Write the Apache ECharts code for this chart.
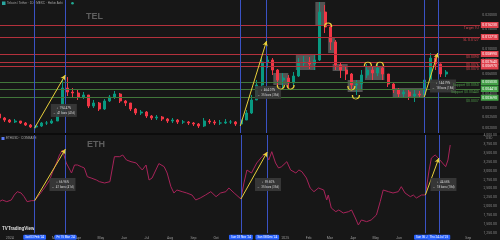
<!DOCTYPE html>
<html><head><meta charset="utf-8">
<script src="https://cdn.jsdelivr.net/npm/echarts@6/dist/echarts.min.js"></script>
<style>html,body{margin:0;padding:0;background:#171717;overflow:hidden}#c{width:500px;height:240px}</style>
</head><body><div id="c"></div>
<script>
// ---------- DATA ----------
const weekDates = ['2023-12-18','2023-12-25','2024-01-01','2024-01-08','2024-01-15','2024-01-22','2024-01-29','2024-02-05','2024-02-12','2024-02-19',
'2024-02-26','2024-03-04','2024-03-11','2024-03-18','2024-03-25','2024-04-01','2024-04-08','2024-04-15','2024-04-22','2024-04-29',
'2024-05-06','2024-05-13','2024-05-20','2024-05-27','2024-06-03','2024-06-10','2024-06-17','2024-06-24','2024-07-01','2024-07-08',
'2024-07-15','2024-07-22','2024-07-29','2024-08-05','2024-08-12','2024-08-19','2024-08-26','2024-09-02','2024-09-09','2024-09-16',
'2024-09-23','2024-09-30','2024-10-07','2024-10-14','2024-10-21','2024-10-28','2024-11-04','2024-11-11','2024-11-18','2024-11-25',
'2024-12-02','2024-12-09','2024-12-16','2024-12-23','2024-12-30','2025-01-06','2025-01-13','2025-01-20','2025-01-27','2025-02-03',
'2025-02-10','2025-02-17','2025-02-24','2025-03-03','2025-03-10','2025-03-17','2025-03-24','2025-03-31','2025-04-07','2025-04-14',
'2025-04-21','2025-04-28','2025-05-05','2025-05-12','2025-05-19','2025-05-26','2025-06-02','2025-06-09','2025-06-16','2025-06-23',
'2025-06-30','2025-07-07','2025-07-14','2025-07-21','2025-07-28','2025-08-04'];

const telFirstOpen = 0.00265;
const telClose = [0.002443,0.002345,0.002252,0.002298,0.002206,0.002118,0.002034,0.002076,0.002206,0.002206,
0.002298,0.002650,0.004499,0.004147,0.004064,0.003746,0.003901,0.003118,0.003315,0.002934,
0.003453,0.003746,0.003982,0.003453,0.003315,0.002934,0.002704,0.002760,0.002544,0.002443,
0.002493,0.002393,0.002298,0.002345,0.002252,0.002252,0.002206,0.002162,0.002076,0.002298,
0.002252,0.002206,0.002206,0.002252,0.002252,0.002162,0.002345,0.002704,0.003524,0.004782,
0.007636,0.007953,0.006489,0.005294,0.005514,0.004981,0.005743,0.007482,0.007636,0.007331,
0.007953,0.02114,0.01558,0.01148,0.007184,0.006489,0.005982,0.004782,0.004880,0.005861,
0.006489,0.006105,0.006758,0.005982,0.004880,0.004319,0.003982,0.004147,0.003823,0.003982,
0.003901,0.005294,0.008283,0.007331,0.005982,0.006230];
const telHigh = [0.002760,0.002493,0.002393,0.002393,0.002298,0.002252,0.002162,0.002118,0.002252,0.002298,
0.002393,0.002875,0.005294,0.005628,0.004499,0.004319,0.004147,0.003901,0.003524,0.003383,
0.003596,0.003901,0.004232,0.004064,0.003524,0.003315,0.002994,0.002875,0.002817,0.002596,
0.002596,0.002544,0.002443,0.002443,0.002393,0.002345,0.002298,0.002252,0.002206,0.002443,
0.002393,0.002345,0.002345,0.002393,0.002345,0.002298,0.002493,0.002875,0.003901,0.005294,
0.008283,0.008627,0.008283,0.006622,0.006105,0.005861,0.006230,0.008283,0.008627,0.008453,
0.008805,0.02592,0.02437,0.01623,0.01195,0.007636,0.007039,0.006105,0.005294,0.006489,
0.007331,0.007039,0.007482,0.007039,0.005982,0.004981,0.004499,0.004408,0.004319,0.004319,
0.004232,0.006105,0.009170,0.008805,0.007400,0.006489];
const telLow = [0.002345,0.002252,0.002206,0.002206,0.002162,0.002076,0.001993,0.001975,0.002034,0.002118,
0.002162,0.002298,0.002650,0.003823,0.003746,0.003524,0.003596,0.002994,0.002994,0.002817,
0.002875,0.003383,0.003596,0.003315,0.003118,0.002817,0.002596,0.002596,0.002443,0.002345,
0.002345,0.002298,0.002206,0.002206,0.002162,0.002162,0.002118,0.002076,0.001993,0.002034,
0.002162,0.002118,0.002118,0.002162,0.002162,0.002076,0.002034,0.002345,0.002650,0.003524,
0.004499,0.006758,0.005861,0.004686,0.004499,0.004499,0.004686,0.005628,0.006897,0.006622,
0.006489,0.007793,0.01378,0.009748,0.006489,0.005514,0.005294,0.004319,0.003901,0.004319,
0.005514,0.005294,0.005743,0.005294,0.004591,0.004064,0.003746,0.003670,0.003524,0.003383,
0.003670,0.003746,0.005083,0.006489,0.005628,0.005628];

const ethDates = ['2023-12-18','2023-12-22','2023-12-28','2024-01-03','2024-01-07','2024-01-11','2024-01-16','2024-01-20','2024-01-24','2024-01-30',
'2024-02-03','2024-02-09','2024-02-16','2024-02-23','2024-02-27','2024-03-03','2024-03-07','2024-03-11','2024-03-16','2024-03-17',
'2024-03-23','2024-03-27','2024-03-31','2024-04-05','2024-04-09','2024-04-13','2024-04-18','2024-04-25','2024-04-29','2024-05-06',
'2024-05-13','2024-05-19','2024-05-26','2024-05-30','2024-06-04','2024-06-10','2024-06-17','2024-06-21','2024-06-25','2024-06-30',
'2024-07-04','2024-07-08','2024-07-13','2024-07-17','2024-07-24','2024-07-28','2024-08-02','2024-08-06','2024-08-10','2024-08-17',
'2024-08-23','2024-08-30','2024-09-04','2024-09-10','2024-09-17','2024-09-24','2024-10-01','2024-10-07','2024-10-14','2024-10-18',
'2024-10-25','2024-11-03','2024-11-07','2024-11-11','2024-11-17','2024-11-24','2024-12-01','2024-12-06','2024-12-10','2024-12-14',
'2024-12-19','2024-12-23','2024-12-27','2025-01-03','2025-01-08','2025-01-15','2025-01-19','2025-01-23','2025-01-29','2025-02-03',
'2025-02-08','2025-02-14','2025-02-21','2025-02-25','2025-02-27','2025-03-03','2025-03-09','2025-03-13','2025-03-19','2025-03-26',
'2025-03-30','2025-04-04','2025-04-08','2025-04-12','2025-04-19','2025-04-25','2025-05-02','2025-05-07','2025-05-11','2025-05-18',
'2025-05-24','2025-05-31','2025-06-04','2025-06-09','2025-06-16','2025-06-20','2025-06-24','2025-07-01','2025-07-06','2025-07-11',
'2025-07-14','2025-07-19','2025-07-23','2025-08-02','2025-08-05','2025-08-08'];
const ethValues = [2133,2180,2133,2180,2320,2413,2376,2273,2133,2161,
2161,2320,2516,2740,2973,3216,3440,3580,3216,3244,
2936,3160,3160,3113,3076,2833,2796,2740,2693,2656,
2693,3393,3393,3440,3300,3253,3216,3113,3020,3160,
2740,2796,3020,3200,3113,2936,2553,2376,2460,2413,
2376,2320,2180,2236,2320,2413,2273,2376,2413,2516,
2376,2208,2656,3020,2936,3216,3393,3496,3300,3533,
3216,3076,3113,3253,3020,2936,3020,2973,2796,2516,
2413,2516,2460,2180,2320,1956,1853,1900,1816,1853,
1900,1676,1480,1620,1573,1620,1760,2133,2460,2413,
2376,2413,2553,2376,2273,2320,2236,2320,2320,3020,
3356,3440,3356,3113,3300,3720];

const redLevels = [0.01623, 0.01271, 0.00899, 0.00764, 0.00697];
const redNames = ['Target 1U', 'SL 0.0127', '$0.0090', '$0.0076', '$0.0070'];
const greenLevels = [0.00503, 0.00441, 0.00369];
const greenNames = ['Support $0.0050', 'Support $0.00440', '$0.0037'];

const markerDates = ['2024-02-03','2024-03-15','2024-11-03','2024-12-08','2025-07-06','2025-07-24'];
const markerLabels = ["Sat 03 Feb '24","Fri 15 Mar '24","Sun 03 Nov '24","Sun 08 Dec '24","Sun 06 Jul '25","Thu 24 Jul '25"];

const telArrows = [['2024-02-03',0.00199,'2024-03-15',0.00586],['2024-11-03',0.002076,'2024-12-08',0.01171],['2025-07-06',0.003746,'2025-07-24',0.00917]];
const ethArrows = [['2024-02-03',2161,'2024-03-15',3608],['2024-11-03',2208,'2024-12-08',3524],['2025-07-06',2320,'2025-07-24',3356]];
const telInfoAt = [['2024-03-13',0.00285],['2024-12-10',0.00411],['2025-07-31',0.004686]];
const ethInfoAt = [['2024-03-11',2614],['2024-12-09',2614],['2025-07-30',2614]];

const telBoxes = [['2024-12-17','2025-01-06',0.004782,0.006105],['2025-01-16','2025-02-11',0.006489,0.008805],
['2025-02-11','2025-02-24',0.0159,0.02592],['2025-02-28','2025-03-09',0.00917,0.01271],
['2025-03-06','2025-03-26',0.006358,0.007331],['2025-03-26','2025-04-15',0.004147,0.005294],
['2025-04-18','2025-05-14',0.005294,0.006897],['2025-05-25','2025-07-06',0.00367,0.004499]];
const telArcs = [['2024-12-27',0.004591,'u'],['2025-01-09',0.004591,'u'],['2025-03-31',0.004499,'u'],['2025-04-06',0.003746,'u'],
['2025-04-22',0.007331,'n'],['2025-05-08',0.007331,'n'],['2025-02-28',0.01623,'n']];

const xTicks = ['2024-01-01','2024-02-01','2024-03-01','2024-04-01','2024-05-01','2024-06-01','2024-07-01','2024-08-01','2024-09-01','2024-10-01','2024-11-01','2024-12-01',
'2025-01-01','2025-02-01','2025-03-01','2025-04-01','2025-05-01','2025-06-01','2025-07-01','2025-08-01','2025-09-01'];
const xTickLabels = ['2024','Feb','Mar','Apr','May','Jun','Jul','Aug','Sep','Oct','Nov','Dec','2025','Feb','Mar','Apr','May','Jun','Jul','Aug','Sep'];
const telTicks = [0.002, 0.0025, 0.003, 0.004, 0.005, 0.006, 0.008, 0.010, 0.015, 0.020];

// ---------- BUILD ----------
const T = s => Date.parse(s + 'T00:00:00Z');
const tickTs = xTicks.map(T);
const UP = '#089981', DN = '#f23645', RED = '#b3313c', GREEN = '#41763a', BLUE = '#3a52c4', YEL = '#e8cf3a';
const X_MIN = T('2023-12-19'), X_MAX = T('2025-09-18');

const candles = weekDates.map((d, i) => [T(d), i === 0 ? telFirstOpen : telClose[i - 1], telClose[i], telLow[i], telHigh[i]]);
const ethData = ethDates.map((d, i) => [T(d), ethValues[i]]);
const ethLast = ethValues[ethValues.length - 1];

const small = 3.5;
function levelLines(levels, names, color, boxColor, textColor) {
  const out = [];
  levels.forEach((v, i) => {
    out.push({yAxis: v, lineStyle: {color: color, width: 1, type: 'solid'},
      label: {show: true, position: 'end', distance: 1, formatter: v.toFixed(6), backgroundColor: boxColor, color: '#fff', fontSize: small, padding: [1, 1.5]}});
    out.push({yAxis: v, lineStyle: {color: color, width: 1, type: 'solid'},
      label: {show: true, position: 'insideEndBottom', distance: 1, formatter: names[i], color: textColor, fontSize: small}});
  });
  return out;
}
function arrows(list) {
  return list.map(a => [
    {coord: [T(a[0]), a[1]], symbol: 'none', lineStyle: {color: YEL, width: 1, type: 'solid'}},
    {coord: [T(a[2]), a[3]], symbol: 'arrow', symbolSize: [4, 5], lineStyle: {color: YEL, width: 1, type: 'solid'}}
  ]);
}
function infoBoxes(at, arr) {
  return at.map((p, i) => {
    const a = arr[i];
    const pct = ((a[3] / a[1] - 1) * 100).toFixed(2);
    const days = Math.round((T(a[2]) - T(a[0])) / 86400000);
    return {coord: [T(p[0]), p[1]], symbol: 'rect', symbolSize: [26, 13],
      itemStyle: {color: 'rgba(58,58,58,0.92)'},
      label: {show: true, position: 'inside', color: '#d0d0d0', fontSize: 3, lineHeight: 5,
        formatter: '\u2195  ' + pct + '%\n\u21d4  ' + days + ' bars (' + days + 'd)'}};
  });
}
const vertTel = markerDates.map(d => ({xAxis: T(d), lineStyle: {color: BLUE, width: 1, type: 'solid'}, label: {show: false}}));
const vertEth = markerDates.map((d, i) => ({xAxis: T(d), lineStyle: {color: BLUE, width: 1, type: 'solid'},
  label: {show: true, position: 'start', distance: 1.5, formatter: markerLabels[i], backgroundColor: '#2962ff', color: '#fff', fontSize: 3, padding: [1, 2], borderRadius: 1}}));

const arcPathU = 'path://M0 0 C0 9 10 9 10 0';
const arcPathN = 'path://M0 9 C0 0 10 0 10 9';

const option = {
  animation: false,
  backgroundColor: '#171717',
  textStyle: {fontFamily: 'Roboto, Liberation Sans, sans-serif'},
  grid: [
    {left: 0, right: 17, top: 0, height: 133},
    {left: 0, right: 17, top: 135, height: 98.2}
  ],
  xAxis: [
    {type: 'value', gridIndex: 0, min: X_MIN, max: X_MAX, show: false, splitLine: {show: false}},
    {type: 'value', gridIndex: 1, min: X_MIN, max: X_MAX,
      axisLine: {show: false}, axisTick: {show: false}, splitLine: {show: false},
      axisLabel: {customValues: tickTs, color: '#9a9a9a', fontSize: small, margin: 2.5, hideOverlap: false,
        formatter: v => { const i = tickTs.indexOf(v); return i >= 0 ? xTickLabels[i] : ''; }}}
  ],
  yAxis: [
    {type: 'log', logBase: 10, gridIndex: 0, position: 'right', min: 0.0018, max: 0.027,
      axisLine: {show: false}, axisTick: {show: false}, splitLine: {show: false},
      axisLabel: {customValues: telTicks, color: '#8a8a8a', fontSize: small, margin: 2.5, formatter: v => Number(v).toFixed(6)}},
    {type: 'value', gridIndex: 1, position: 'right', min: 1250, max: 4000, interval: 250,
      axisLine: {show: false}, axisTick: {show: false}, splitLine: {show: false},
      axisLabel: {color: '#8a8a8a', fontSize: small, margin: 2.5,
        formatter: v => v.toLocaleString('en-US', {minimumFractionDigits: 2, maximumFractionDigits: 2})}}
  ],
  series: [
    {
      type: 'candlestick', xAxisIndex: 0, yAxisIndex: 0, barWidth: 2.5,
      data: candles,
      encode: {x: 0, y: [1, 2, 3, 4]},
      itemStyle: {color: UP, color0: DN, borderColor: UP, borderColor0: DN, borderWidth: 1},
      markArea: {silent: true, itemStyle: {color: 'rgba(205,205,205,0.33)'},
        data: telBoxes.map(b => [{coord: [T(b[0]), b[3]]}, {coord: [T(b[1]), b[2]]}])},
      markLine: {silent: true, symbol: ['none', 'none'], animation: false, precision: 8,
        data: [].concat(levelLines(redLevels, redNames, RED, '#e0424e', '#d4464f'), levelLines(greenLevels, greenNames, GREEN, '#43a047', '#4f9a4a'), vertTel, arrows(telArrows),
          [{yAxis: telClose[telClose.length - 1], lineStyle: {opacity: 0},
            label: {show: true, position: 'end', distance: 1, formatter: telClose[telClose.length - 1].toFixed(6) + '\n 1d 07:12', backgroundColor: '#089981', color: '#fff', fontSize: small, padding: [1, 1.5], lineHeight: 4.5}}])},
      markPoint: {silent: true,
        data: infoBoxes(telInfoAt, telArrows).concat(telArcs.map(a => ({coord: [T(a[0]), a[1]], symbol: a[2] === 'u' ? arcPathU : arcPathN,
          symbolSize: [7, 4], itemStyle: {color: 'rgba(0,0,0,0)', borderColor: YEL, borderWidth: 1}, label: {show: false}})))}
    },
    {
      type: 'line', xAxisIndex: 1, yAxisIndex: 1, data: ethData, showSymbol: false, symbol: 'none',
      lineStyle: {color: '#a8245a', width: 1},
      markLine: {silent: true, symbol: ['none', 'none'], animation: false, precision: 8,
        data: [].concat(vertEth, arrows(ethArrows),
          [{yAxis: ethLast, lineStyle: {opacity: 0},
            label: {show: true, position: 'end', distance: 1, formatter: ethLast.toLocaleString('en-US', {minimumFractionDigits: 2}), backgroundColor: '#d81b60', color: '#fff', fontSize: small, padding: [1, 1.5]}}])},
      markPoint: {silent: true, data: infoBoxes(ethInfoAt, ethArrows)}
    }
  ],
  graphic: [
    {type: 'rect', shape: {x: 0, y: 133, width: 500, height: 2}, style: {fill: '#0c0c0c'}, silent: true},
    {type: 'text', left: 86, top: 12, style: {text: 'TEL', fill: '#5e5e5e', fontSize: 9, fontWeight: 'bold', fontFamily: 'Liberation Sans'}},
    {type: 'text', left: 87, top: 140, style: {text: 'ETH', fill: '#5e5e5e', fontSize: 9, fontWeight: 'bold', fontFamily: 'Liberation Sans'}},
    {type: 'rect', shape: {x: 2, y: 1.5, width: 3.5, height: 3.5}, style: {fill: '#2aa7a0'}},
    {type: 'text', left: 7, top: 1.5, style: {text: 'Telcoin / Tether · 1D · MEXC · Heikin Ashi', fill: '#a8a8a8', fontSize: 3}},
    {type: 'circle', shape: {cx: 72.5, cy: 3.2, r: 1.3}, style: {fill: '#22ab94'}},
    {type: 'rect', shape: {x: 1.5, y: 137, width: 3, height: 3}, style: {fill: '#5b7cfa'}},
    {type: 'text', left: 6, top: 137, style: {text: 'ETHUSD · COINBASE', fill: '#a8a8a8', fontSize: 3}},
    {type: 'text', left: 2, top: 226, style: {text: 'TV', fill: '#e0e0e0', fontSize: 4.5, fontWeight: 'bold'}},
    {type: 'text', left: 8, top: 226, style: {text: 'TradingView', fill: '#e0e0e0', fontSize: 4.5, fontWeight: 'bold'}},
    {type: 'text', left: 486, top: 137, style: {text: 'USD', fill: '#8a8a8a', fontSize: 3}}
  ]
};
const chart = echarts.init(document.getElementById('c'));
chart.setOption(option);
</script></body></html>
